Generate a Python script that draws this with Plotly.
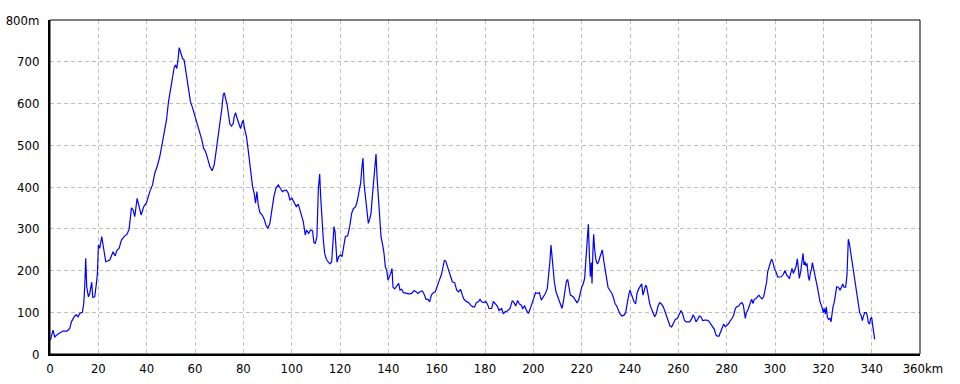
import plotly.graph_objects as go

# distance along route (km) and elevation (m)
km = [0.15,0.57,1.26,1.95,3.33,5.40,7.05,8.16,8.85,10.23,10.92,11.61,12.30,13.41,13.96,14.37,14.79,15.20,15.89,16.44,17.27,17.68,18.51,19.20,19.62,20.03,20.58,21.41,22.24,23.07,24.73,26.11,26.93,27.76,28.59,29.56,30.94,31.90,32.73,33.70,34.39,35.08,36.05,36.87,37.70,38.81,39.91,41.29,42.40,43.36,44.33,45.43,46.54,47.50,48.19,49.02,49.99,50.68,51.37,51.92,52.47,53.03,53.44,53.99,54.82,55.51,56.06,56.75,57.44,58.13,58.96,60.07,61.03,62.00,62.83,63.52,64.35,65.18,66.14,67.11,67.94,68.63,69.46,70.28,71.11,71.66,72.08,72.63,73.32,73.87,74.42,75.11,75.80,76.22,76.77,77.46,78.15,78.84,79.39,79.94,80.50,81.32,82.01,82.70,83.26,83.81,84.50,85.05,85.60,86.16,86.85,87.81,88.64,89.33,90.16,90.99,91.82,92.65,93.48,94.44,95.27,96.24,97.07,97.90,98.59,99.28,100.10,100.93,101.90,102.73,103.42,104.11,104.80,105.62,106.18,107.01,107.84,108.66,109.21,109.76,110.45,
      111.03,111.59,112.00,112.55,113.10,113.66,114.34,115.03,115.86,116.55,116.97,117.52,117.93,118.34,118.76,119.45,120.28,120.83,121.38,122.21,123.17,124.00,124.83,125.52,126.48,127.17,128.00,128.55,129.10,129.52,129.93,130.62,131.17,131.72,132.28,132.83,133.38,133.93,134.48,134.90,135.31,135.86,136.41,136.97,137.66,138.21,138.76,139.31,139.86,140.41,140.97,141.52,141.93,142.62,143.45,144.28,144.83,145.52,146.21,147.31,148.55,149.66,150.62,151.45,152.28,153.10,154.07,154.76,155.59,156.41,157.10,157.79,158.62,159.45,160.28,161.10,161.93,162.62,163.17,163.72,164.41,165.10,165.79,166.48,167.45,168.28,169.10,169.93,170.62,171.31,172.28,173.24,174.07,174.90,175.72,176.41,177.24,177.93,178.62,179.45,180.28,180.97,181.66,182.76,183.45,184.28,185.10,185.79,
      186.90,187.59,188.28,189.24,190.34,191.31,192.00,192.69,193.52,194.21,195.03,195.59,196.41,197.10,197.93,198.62,199.45,200.28,200.97,201.79,202.48,203.31,204.14,204.97,205.79,206.48,206.90,207.31,207.72,208.14,208.69,209.38,210.07,210.76,211.45,211.86,212.41,213.10,213.66,214.21,214.76,215.31,216.00,216.69,217.38,218.07,218.76,219.31,220.00,220.69,221.24,221.79,222.34,222.76,223.17,223.59,224.00,224.28,224.69,224.97,225.38,225.93,226.48,227.03,227.59,228.14,228.55,229.10,229.79,230.34,230.90,231.72,232.55,233.24,233.79,234.48,235.17,235.86,236.69,237.52,238.21,238.76,239.45,240.00,240.41,240.97,241.66,242.34,242.90,243.59,244.28,244.83,245.38,245.93,246.48,246.90,247.45,248.14,248.83,249.52,250.21,250.90,251.59,252.28,252.97,253.79,254.48,255.17,255.86,256.55,257.24,257.93,258.76,259.59,260.41,261.10,261.79,262.48,263.17,264.00,264.69,265.38,266.07,266.62,267.31,268.00,268.69,269.38,270.07,270.90,271.72,272.55,273.38,274.21,274.90,
      275.59,276.14,276.83,277.52,278.21,278.76,279.45,280.14,280.83,281.52,282.21,282.90,283.59,284.14,284.97,285.66,286.34,286.90,287.31,287.72,288.14,288.69,289.24,289.79,290.34,290.90,291.45,292.14,292.83,293.38,293.93,294.62,295.31,296.00,296.55,296.97,297.52,298.21,298.62,299.17,299.72,300.41,301.10,301.79,302.62,303.45,304.14,304.83,305.52,305.93,306.62,307.03,307.59,308.14,308.69,309.24,309.66,310.07,310.62,311.17,311.59,312.00,312.41,312.83,313.24,313.79,314.21,314.62,315.17,315.45,315.86,316.41,316.97,317.52,318.07,318.62,319.17,319.59,320.00,320.41,320.83,321.24,321.66,322.21,322.76,323.17,323.59,324.00,324.55,324.97,325.52,326.21,326.90,327.59,328.00,328.55,329.24,329.79,330.07,330.34,330.76,331.17,331.72,332.28,332.83,333.38,333.93,334.48,335.03,335.59,336.14,336.55,337.10,337.79,338.21,338.62,339.17,339.59,340.00,340.41,340.83,341.24]

elev = [33,45,57,41,48,55,55,61,77,91,94,89,97,100,121,161,229,161,137,145,172,136,137,169,193,261,253,281,253,221,225,245,235,249,253,273,283,287,299,350,345,329,373,349,333,353,362,389,405,433,449,473,509,536,560,604,640,656,686,692,684,708,734,724,708,704,682,652,628,604,590,568,546,528,513,493,485,469,449,439,453,481,513,549,588,620,626,613,596,573,551,546,552,568,578,564,549,540,552,560,540,520,489,457,425,401,385,361,389,357,339,333,323,309,301,313,345,377,397,405,397,389,392,392,385,369,373,365,353,359,345,329,317,285,297,289,297,295,267,265,281,
        394,431,377,313,273,241,227,221,216,221,257,305,293,265,220,233,237,233,257,281,283,305,337,348,353,367,393,409,449,469,409,377,353,313,323,337,377,417,457,479,426,377,329,281,261,241,209,201,177,184,193,205,160,156,164,169,153,155,147,145,144,145,152,149,145,149,151,144,131,131,125,141,147,149,165,177,189,205,224,223,209,197,185,173,171,153,149,155,141,131,126,123,117,113,113,123,125,131,125,123,126,120,109,109,126,120,115,104,
        109,96,101,103,109,128,123,115,128,120,117,109,115,105,97,107,120,137,147,145,147,129,136,145,157,193,225,261,237,201,173,149,137,123,113,109,125,153,173,179,161,141,139,136,129,123,129,145,160,169,181,229,289,311,241,185,219,169,253,287,249,225,216,221,233,245,249,225,201,181,160,152,145,133,121,115,104,96,91,93,99,121,141,153,147,136,125,120,145,156,165,168,141,157,165,161,141,121,109,99,89,97,115,123,120,113,101,89,77,67,65,75,83,85,97,104,96,81,77,77,77,83,93,89,77,83,91,89,80,81,81,79,71,63,59,
        45,43,43,53,61,72,65,69,73,80,85,93,109,113,115,121,123,117,97,85,99,104,113,120,131,121,131,133,137,141,136,132,137,153,173,197,211,221,227,219,205,197,184,185,185,191,200,189,185,180,193,205,193,200,209,228,203,181,197,217,241,213,221,211,217,185,176,193,205,219,209,197,176,161,141,125,117,105,99,109,96,113,88,83,85,77,101,113,125,141,161,160,153,161,168,160,160,189,225,275,265,249,229,205,181,161,141,121,99,93,80,89,99,99,91,75,72,85,88,69,53,35]

x_ticks = [0,20,40,60,80,100,120,140,160,180,200,220,240,260,280,300,320,340,360]
x_labels = [str(v) for v in x_ticks[:-1]] + ["\u2002360km"]
y_ticks = [0,100,200,300,400,500,600,700,800]
y_labels = [str(v) for v in y_ticks[:-1]] + ["800m"]

FONT = "Liberation Sans Narrow, DejaVu Sans Condensed, DejaVu Sans"

fig = go.Figure()
fig.add_trace(go.Scatter(x=km, y=elev, mode="lines",
                         line=dict(color="#0000ff", width=1.2), hoverinfo="x+y"))

axis_common = dict(showgrid=True, gridcolor="#c0c0c0", gridwidth=1,
                   griddash="4px,3px", zeroline=False, showline=True,
                   linecolor="black", linewidth=2, ticks="", automargin=False,
                   tickfont=dict(family=FONT, size=13, color="black"))

fig.update_xaxes(range=[0, 360], tickvals=x_ticks, ticktext=x_labels,
                 ticklabelstandoff=1, **axis_common)
fig.update_yaxes(range=[0, 800], tickvals=y_ticks, ticktext=y_labels,
                 ticklabelstandoff=6, **axis_common)

fig.add_shape(type="rect", xref="paper", yref="paper", x0=0, y0=0, x1=1, y1=1,
              line=dict(color="black", width=1), layer="above")

fig.update_layout(width=960, height=384, margin=dict(l=50, r=40, t=20, b=30),
                  paper_bgcolor="white", plot_bgcolor="white", showlegend=False)

fig.write_html("out.html")
